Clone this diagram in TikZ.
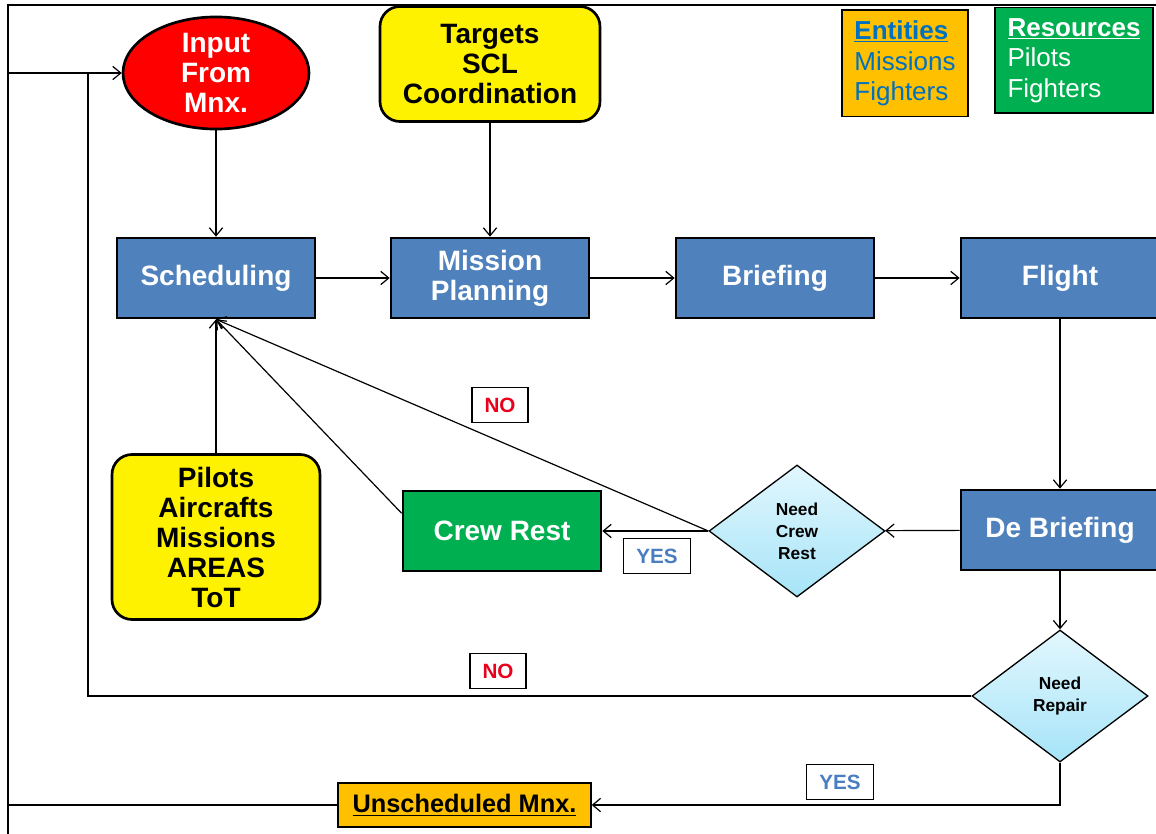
\documentclass[tikz,border=0pt]{standalone}
\usepackage{fontspec}
\setmainfont{Liberation Sans}
\usetikzlibrary{shapes.geometric,arrows.meta}
\definecolor{procblue}{HTML}{4F81BD}
\definecolor{restgreen}{HTML}{00B050}
\definecolor{mnxorange}{HTML}{FFC000}
\definecolor{entblue}{HTML}{0070C0}
\definecolor{noRed}{HTML}{E8001C}
\definecolor{yesblue}{HTML}{4A7EC0}
\definecolor{cyantop}{HTML}{E2F7FE}
\definecolor{cyanbot}{HTML}{A6E4F8}
\begin{document}
\begin{tikzpicture}[x=0.75pt,y=-0.75pt,line width=0.9pt,
  >={Straight Barb[length=6pt,width=10pt]},
  big/.style={font=\fontsize{21}{22.5}\selectfont\bfseries},
  proc/.style={draw,line width=2pt,fill=procblue,text=white,big,align=center,
    minimum width=148.5pt,minimum height=60pt,inner sep=0pt},
  note/.style={draw,line width=2pt,fill=yellow,rounded corners=15pt,big,align=center,
    minimum width=165pt,minimum height=86.25pt,inner sep=0pt},
  inpshape/.style={ellipse,draw,line width=2pt,fill=red,text=white,big,align=center,
    minimum width=139.5pt,minimum height=82.5pt,inner sep=0pt},
  decide/.style={diamond,draw,line width=1pt,top color=cyantop,bottom color=cyanbot,
    aspect=1.33,minimum width=132pt,minimum height=99pt,inner sep=0pt,align=center,
    font=\fontsize{13}{16.5}\selectfont\bfseries},
  legend/.style={draw,line width=1pt,align=left,inner sep=0pt,
    font=\fontsize{19.5}{23}\selectfont},
  ans/.style={draw,line width=0.8pt,fill=white,inner sep=0pt,minimum height=26pt,
    font=\fontsize{15.5}{17}\selectfont\bfseries},
  mnx/.style={draw,line width=1pt,fill=mnxorange,minimum width=189.75pt,minimum height=33pt,
    inner sep=0pt,font=\fontsize{19}{21}\selectfont\bfseries}]
  \clip (0,0) rectangle (1156,834);
  % frame
  \draw[line width=2.2pt] (1160,5) -- (8,5) -- (8,840);

  \node[inpshape] (inp) at (216,73) {Input\\From\\Mnx.};
  \node[note] (tgt) at (490,64) {Targets\\SCL\\Coordination};
  \node[legend,fill=mnxorange,text=entblue,minimum width=94.5pt,minimum height=80pt]
    (ent) at (905,63.5) {\underline{\textbf{Entities}}\\Missions\\Fighters};
  \node[legend,fill=restgreen,text=white,minimum width=118.5pt,minimum height=79pt]
    (rsc) at (1074,60.5) {\underline{\textbf{Resources}}\\Pilots\\Fighters};

  \node[proc] (sch) at (216,278) {Scheduling};
  \node[proc] (mpl) at (490,278) {Mission\\Planning};
  \node[proc] (brf) at (775,278) {Briefing};
  \node[proc] (flt) at (1060,278) {Flight};
  \node[proc] (dbr) at (1060,530) {De Briefing};
  \node[proc,fill=restgreen] (crw) at (502,531) {Crew Rest};
  \node[note,minimum width=156pt,minimum height=123.75pt] (res) at (216,537)
    {Pilots\\Aircrafts\\Missions\\AREAS\\ToT};
  \node[decide] (ncr) at (797,531) {Need\\Crew\\Rest};
  \node[decide] (nrp) at (1060,696) {Need\\Repair};
  \node[mnx] (uns) at (464.5,805) {\underline{Unscheduled Mnx.}};

  \node[ans,text=noRed,minimum width=42pt] (no1) at (500,405) {NO};
  \node[ans,text=noRed,minimum width=42pt] (no2) at (498,671) {NO};
  \node[ans,text=yesblue,minimum width=50pt] (yes1) at (657,556) {YES};
  \node[ans,text=yesblue,minimum width=50pt] (yes2) at (840,782) {YES};

  \coordinate (lb) at (8,805);
  \coordinate (lt) at (8,73);
  \coordinate (jn) at (88,73);
  \coordinate (jb) at (88,696);

  \draw[->] (inp) -- (sch);
  \draw[->] (tgt) -- (mpl);
  \draw[->] (sch) -- (mpl);
  \draw[->] (mpl) -- (brf);
  \draw[->] (brf) -- (flt);
  \draw[->] (flt) -- (dbr);
  \draw[->] (dbr) -- (ncr);
  \draw[->] (ncr) -- (crw);
  \draw[->] (ncr.west) -- (sch.south);
  \draw[->] (crw.170) -- (sch.south);
  \draw[->] (res) -- (sch);
  \draw[->] (dbr) -- (nrp);
  \draw (nrp.west) -- (jb) -- (jn);
  \draw[->] (nrp.south) |- (uns);
  \draw[->] (uns) -- (lb) -- (lt) -- (inp);
\end{tikzpicture}
\end{document}
